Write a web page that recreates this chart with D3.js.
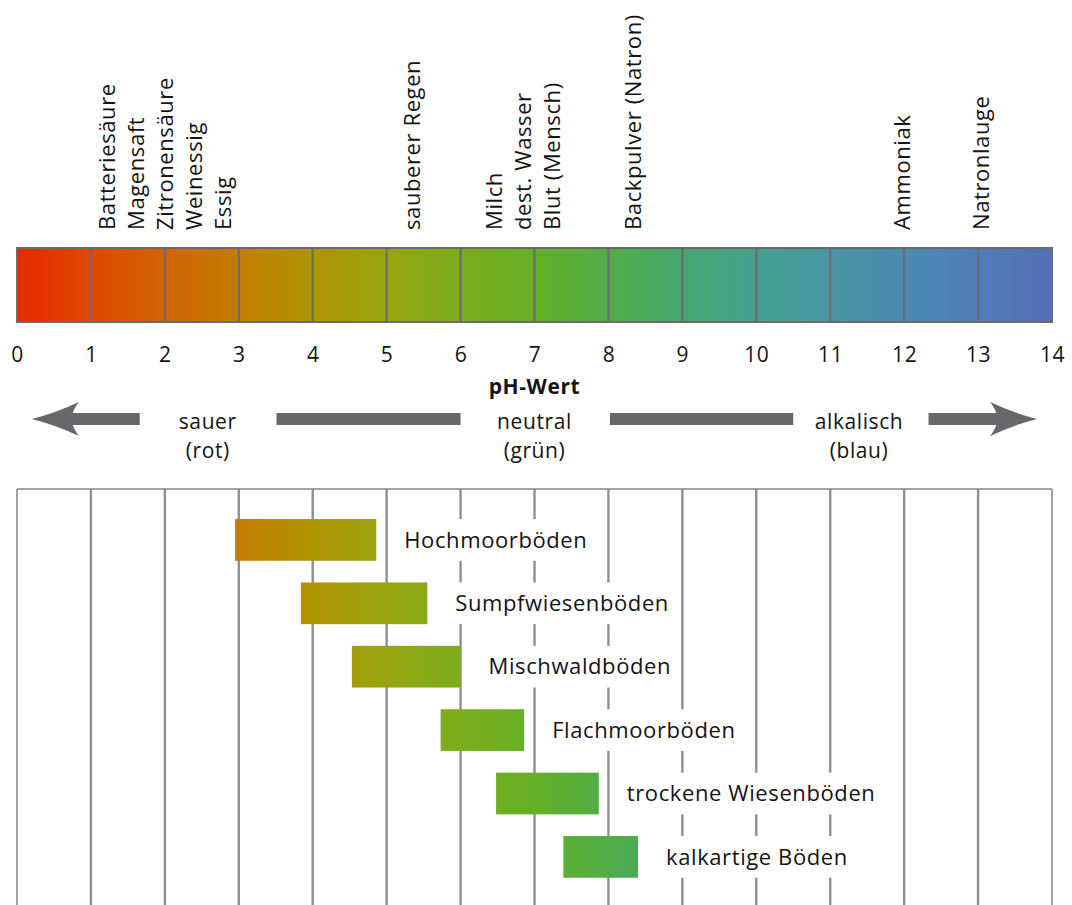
<!DOCTYPE html>
<html>
<head>
<meta charset="utf-8">
<script src="https://cdn.jsdelivr.net/npm/d3@7"></script>
<style>
  body { margin: 0; background: #fff; }
  svg { display: block; }
  text { font-family: "Open Sans", "Noto Sans", sans-serif; fill: #141414; letter-spacing: 0.6px; }
</style>
</head>
<body>
<svg id="chart" width="1072" height="905"></svg>
<script>
// pH scale 0..14 and the indicator colour at each whole pH value
const phTicks = d3.range(0, 15);
const phColors = [
  "#e62900", "#de4903", "#d16402", "#c37c01", "#b09500",
  "#97a50f", "#7bad1c", "#64b026", "#4fad48", "#45a66f",
  "#43a08d", "#4896a4", "#4b8ab2", "#4f7db7", "#5470b8"
];

// everyday substances, stacked name lists placed at a pH position
const substanceGroups = [
  { ph: 1.23, names: ["Batteriesäure", "Magensaft", "Zitronensäure", "Weinessig", "Essig"] },
  { ph: 5.35, names: ["sauberer Regen"] },
  { ph: 6.46, names: ["Milch", "dest. Wasser", "Blut (Mensch)"] },
  { ph: 8.34, names: ["Backpulver (Natron)"] },
  { ph: 11.98, names: ["Ammoniak"] },
  { ph: 13.05, names: ["Natronlauge"] }
];

// acid / neutral / alkaline zones
const zoneNames = [["sauer", "(rot)"], ["neutral", "(grün)"], ["alkalisch", "(blau)"]];
const zoneCenters = [2.58, 7.0, 11.39];

// pH range of soil types
const soilNames = ["Hochmoorböden", "Sumpfwiesenböden", "Mischwaldböden",
                   "Flachmoorböden", "trockene Wiesenböden", "kalkartige Böden"];
const soilMin = [2.95, 3.84, 4.53, 5.73, 6.48, 7.39];
const soilMax = [4.86, 5.55, 6.00, 6.86, 7.87, 8.40];

const axisTitle = "pH-Wert";

const svg = d3.select("#chart");
const x = d3.scaleLinear().domain([0, 14]).range([17, 1052]);

// shared horizontal colour ramp across the whole scale
const defs = svg.append("defs");
const grad = defs.append("linearGradient")
  .attr("id", "phRamp")
  .attr("gradientUnits", "userSpaceOnUse")
  .attr("x1", x(0)).attr("x2", x(14)).attr("y1", 0).attr("y2", 0);
grad.selectAll("stop").data(phColors).join("stop")
  .attr("offset", (d, i) => i / 14)
  .attr("stop-color", d => d);

// ---- colour bar ----
const barTop = 248, barH = 74;
const bar = svg.append("g");
bar.selectAll("rect.cell").data(phTicks.slice(0, 14)).join("rect")
  .attr("class", "cell")
  .attr("x", d => x(d)).attr("width", d => x(d + 1) - x(d))
  .attr("y", barTop).attr("height", barH)
  .attr("fill", "url(#phRamp)");
bar.selectAll("line.div").data(phTicks.slice(1, 14)).join("line")
  .attr("class", "div")
  .attr("x1", d => x(d)).attr("x2", d => x(d))
  .attr("y1", barTop).attr("y2", barTop + barH)
  .attr("stroke", "#6c6c6c").attr("stroke-width", 2.2);
bar.append("rect")
  .attr("x", x(0)).attr("y", barTop)
  .attr("width", x(14) - x(0)).attr("height", barH)
  .attr("fill", "none").attr("stroke", "#6e6a66").attr("stroke-width", 2);

// tick numbers under the bar
const axis = d3.axisBottom(x).tickValues(phTicks).tickFormat(d3.format("d")).tickSize(0).tickPadding(0);
const axisG = svg.append("g").attr("transform", `translate(0,${barTop + barH})`).call(axis);
axisG.select(".domain").remove();
axisG.selectAll("text")
  .attr("y", 40).attr("dy", 0)
  .style("font-size", "21px")
  .style("font-family", "\"Open Sans\", sans-serif")
  .attr("fill", "#141414");

// axis title
svg.append("text")
  .attr("x", x(7)).attr("y", 394)
  .attr("text-anchor", "middle")
  .style("font-size", "21px").style("font-weight", "bold")
  .text(axisTitle);

// ---- substance names above the bar (rotated) ----
const lineStep = 29;
const subs = svg.append("g");
substanceGroups.forEach(g => {
  g.names.forEach((name, i) => {
    subs.append("text")
      .attr("transform", `translate(${x(g.ph) + i * lineStep},230) rotate(-90)`)
      .attr("dy", "0.34em")
      .style("font-size", "22px")
      .text(name);
  });
});

// ---- direction arrows ----
const arrowY = 419, half = 6;
const arrowColor = "#68676c";
function arrowPath(tip, shaftEnd, dir) {
  // dir = -1 points left, +1 points right
  const p = d3.path();
  const bx = tip - dir * 47, jx = tip - dir * 41;
  p.moveTo(tip, arrowY);
  p.quadraticCurveTo(tip - dir * 24, arrowY - 6, bx, arrowY - 17);
  p.quadraticCurveTo(jx - dir * 1, arrowY - 10, jx, arrowY - half);
  p.lineTo(shaftEnd, arrowY - half);
  p.lineTo(shaftEnd, arrowY + half);
  p.lineTo(jx, arrowY + half);
  p.quadraticCurveTo(jx - dir * 1, arrowY + 10, bx, arrowY + 17);
  p.quadraticCurveTo(tip - dir * 24, arrowY + 6, tip, arrowY);
  p.closePath();
  return p.toString();
}
const arrows = svg.append("g").attr("fill", arrowColor);
arrows.append("path").attr("d", arrowPath(x(0.2), x(1.66), -1));
arrows.append("path").attr("d", arrowPath(x(13.8), x(12.33), 1));
arrows.append("rect").attr("x", x(3.51)).attr("width", x(6.0) - x(3.51))
  .attr("y", arrowY - half).attr("height", half * 2);
arrows.append("rect").attr("x", x(8.02)).attr("width", x(10.5) - x(8.02))
  .attr("y", arrowY - half).attr("height", half * 2);

// zone labels, two lines each
const zones = svg.append("g").attr("text-anchor", "middle")
  .style("font-size", "21px").style("letter-spacing", "0.8px");
zoneNames.forEach((lines, i) => {
  lines.forEach((s, j) => {
    zones.append("text").attr("x", x(zoneCenters[i])).attr("y", 429 + j * 29).text(s);
  });
});

// ---- soil chart ----
const gridTop = 489, gridBottom = 905;
const grid = svg.append("g");
grid.selectAll("line").data(phTicks).join("line")
  .attr("x1", d => x(d)).attr("x2", d => x(d))
  .attr("y1", gridTop).attr("y2", gridBottom)
  .attr("stroke", d => (d === 0 || d === 14) ? "#8c8c8c" : "#8f8f93")
  .attr("stroke-width", d => (d === 0 || d === 14) ? 1.6 : 2.4);
grid.append("line")
  .attr("x1", x(0)).attr("x2", x(14))
  .attr("y1", gridTop).attr("y2", gridTop)
  .attr("stroke", "#858585").attr("stroke-width", 1.6);

const y = d3.scaleBand().domain(soilNames).range([508.2, 888.6])
  .paddingInner(0.342).paddingOuter(0.171);

const rows = svg.append("g").selectAll("g").data(soilNames).join("g");

// white plates behind the names interrupt the grid lines
const plates = rows.append("rect").attr("fill", "#fff");
const labels = rows.append("text")
  .attr("x", (d, i) => x(soilMax[i]) + 28)
  .attr("y", d => y(d) + y.bandwidth() / 2)
  .attr("dy", "0.35em")
  .style("font-size", "22px")
  .text(d => d);
labels.each(function (d, i) {
  const w = this.getComputedTextLength();
  const x0 = x(soilMax[i]) + 28;
  d3.select(plates.nodes()[i])
    .attr("x", x0 - 8).attr("width", w + 16)
    .attr("y", y(d)).attr("height", y.bandwidth());
});

rows.append("rect")
  .attr("x", (d, i) => x(soilMin[i]))
  .attr("width", (d, i) => x(soilMax[i]) - x(soilMin[i]))
  .attr("y", d => y(d)).attr("height", y.bandwidth())
  .attr("fill", "url(#phRamp)");
</script>
</body>
</html>
